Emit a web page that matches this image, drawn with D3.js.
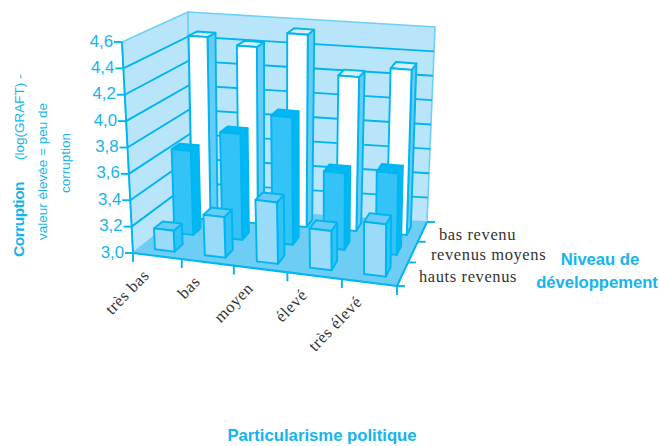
<!DOCTYPE html>
<html><head><meta charset="utf-8">
<script src="https://cdn.jsdelivr.net/npm/d3@7"></script>
<style>html,body{margin:0;padding:0;background:#fff}svg{display:block}</style>
</head><body><svg id="c" width="659" height="446"></svg>
<script>
const categories = ["très bas","bas","moyen","élevé","très élevé"];
const depths = ["hauts revenus","revenus moyens","bas revenu"];
const hautsRevenus = [3.16,3.31,3.47,3.30,3.40];
const revenusMoyens = [3.66,3.83,4.00,3.60,3.64];
const basRevenu = [4.47,4.42,4.55,4.24,4.33];
const yTicks = [3.0,3.2,3.4,3.6,3.8,4.0,4.2,4.4,4.6];

const W = {fbl:[133,253],fbr:[397,286],bbl:[191,207],bbr:[427,222],ftl:[122,42],ftr:[398,75],btl:[188,12],btr:[435,27]};
const x = d3.scaleBand().domain(categories).range([0.006,1.006]).paddingInner(0.6).paddingOuter(0.3);
const z = d3.scaleBand().domain(depths).range([0,1]).paddingInner(0.58).paddingOuter(0.29);
const y = d3.scaleLinear().domain([3.0,4.6]).range([0,1]);
const warpX = d3.scalePow().exponent(1.05).domain([0,1]).range([0,1]);
const warpZ = d3.scalePow().exponent(0.91).domain([0,1]).range([0,1]);
const lerp=(a,b,t)=>[a[0]+(b[0]-a[0])*t,a[1]+(b[1]-a[1])*t];
function P(u0,d0,h){
  const u=warpX(u0), d=warpZ(d0);
  const bot=lerp(lerp(W.fbl,W.fbr,u),lerp(W.bbl,W.bbr,u),d);
  const top=lerp(lerp(W.ftl,W.ftr,u),lerp(W.btl,W.btr,u),d);
  return lerp(bot,top,h);
}
const line=C=>"M"+C.map(p=>p.join(",")).join("L")+"Z";
const svg=d3.select("#c");
const LINE="#00b5f1", WALL="#b9e5fb", WEDGE="#6fd0f5", FLOOR="#6dcdf5", INK="#333333";
const SANS="'Liberation Sans',Arial,sans-serif", SERIF="'Liberation Serif',serif";
const SW=1.9;

// walls and floor
svg.append("path").attr("d",line([P(0,0,0),P(0,0,1),P(0,1,1),P(0,1,0)])).attr("fill",WALL).attr("stroke",WEDGE).attr("stroke-width",1.6);
svg.append("path").attr("d",line([P(0,1,0),P(0,1,1),P(1,1,1),P(1,1,0)])).attr("fill",WALL).attr("stroke",WEDGE).attr("stroke-width",1.6);
svg.append("path").attr("d",line([P(0,0,0),P(1,0,0),P(1,1,0),P(0,1,0)])).attr("fill",FLOOR);

// grid
yTicks.forEach(t=>{
  const h=y(t);
  if(t>3.0 && t<4.6){
    svg.append("polyline").attr("points",[P(0,0,h),P(0,1,h),P(1,1,h)].map(p=>p.join(",")).join(" "))
      .attr("fill","none").attr("stroke",LINE).attr("stroke-width",SW);
  }
  const a=P(0,0,h);
  svg.append("line").attr("x1",a[0]-8).attr("x2",a[0]).attr("y1",a[1]).attr("y2",a[1]).attr("stroke",LINE).attr("stroke-width",SW);
  svg.append("text").attr("x",a[0]-9).attr("y",a[1]+4.5).attr("text-anchor","end").attr("font-family",SANS).attr("font-size",16.8).attr("fill","#14b4ee").text(d3.format(".1f")(t).replace(".",","));
});
// left wall front edge
svg.append("line").attr("x1",W.ftl[0]).attr("y1",W.ftl[1]).attr("x2",W.fbl[0]).attr("y2",W.fbl[1]).attr("stroke",LINE).attr("stroke-width",SW);
// floor edges + ticks
svg.append("line").attr("x1",W.fbl[0]).attr("y1",W.fbl[1]).attr("x2",W.fbr[0]).attr("y2",W.fbr[1]).attr("stroke",LINE).attr("stroke-width",2);
svg.append("line").attr("x1",W.fbr[0]).attr("y1",W.fbr[1]).attr("x2",W.bbr[0]).attr("y2",W.bbr[1]).attr("stroke",LINE).attr("stroke-width",2);
categories.forEach((c,i)=>{
  const p=P(i/categories.length,0,0);
  svg.append("line").attr("x1",p[0]).attr("x2",p[0]).attr("y1",p[1]).attr("y2",p[1]+9).attr("stroke",LINE).attr("stroke-width",SW);
  const m=P(x(c)+x.bandwidth()/2,0,0);
  svg.append("text").attr("transform",`translate(${m[0]-8},${m[1]+20}) rotate(-46)`).attr("text-anchor","end")
    .attr("font-family",SERIF).attr("font-size",16.5).attr("fill",INK).attr("letter-spacing",.6).text(c);
});
const pe=P(1,0,0);
svg.append("line").attr("x1",pe[0]).attr("x2",pe[0]).attr("y1",pe[1]).attr("y2",pe[1]+9).attr("stroke",LINE).attr("stroke-width",SW);
[0,1,2,3].forEach(i=>{
  const p=P(1,i/3,0);
  svg.append("line").attr("x1",p[0]).attr("x2",p[0]+8).attr("y1",p[1]).attr("y2",p[1]).attr("stroke",LINE).attr("stroke-width",SW);
});
[["hauts revenus",419,282],["revenus moyens",431,260],["bas revenu",439,240]].forEach(([t,a,b])=>{
  svg.append("text").attr("x",a).attr("y",b).attr("font-family",SERIF).attr("font-size",16.5).attr("letter-spacing",.6).attr("fill",INK).text(t);
});

// bars, back to front
const series=[
 {name:depths[2],v:basRevenu,front:"#ffffff",top:"#d5f1fd",side:"#66ccf5"},
 {name:depths[1],v:revenusMoyens,front:"#33c3f6",top:"#00b8f3",side:"#00b8f3"},
 {name:depths[0],v:hautsRevenus,front:"#9bdbfa",top:"#66ccf5",side:"#2fc3f6"}
];
series.forEach(s=>{
  s.v.forEach((val,i)=>{
    const c=categories[i];
    const u0=x(c),u1=u0+x.bandwidth(),d0=z(s.name),d1=d0+z.bandwidth(),h=y(val);
    const g=svg.append("g").attr("stroke",LINE).attr("stroke-width",SW).attr("stroke-linejoin","round");
    g.append("path").attr("d",line([P(u1,d0,0),P(u1,d1,0),P(u1,d1,h),P(u1,d0,h)])).attr("fill",s.side);
    g.append("path").attr("d",line([P(u0,d0,h),P(u1,d0,h),P(u1,d1,h),P(u0,d1,h)])).attr("fill",s.top);
    g.append("path").attr("d",line([P(u0,d0,0),P(u1,d0,0),P(u1,d0,h),P(u0,d0,h)])).attr("fill",s.front);
  });
});

// titles
const T="#14b4ee";
const rot=(t,px,py,w,sz)=>svg.append("text").attr("transform",`translate(${px},${py}) rotate(-90)`).attr("font-family",SANS)
  .attr("font-size",sz).attr("font-weight",w).attr("fill",T).text(t);
rot("Corruption",24,257,700,15.5).attr("letter-spacing",-.5);
rot("(log(GRAFT) -",24,160,400,13.5);
rot("valeur élevée = peu de",47,240,400,13.5);
rot("corruption",70,193,400,13.5);
const bt=(t,px,py,sz)=>svg.append("text").attr("x",px).attr("y",py).attr("text-anchor","middle").attr("font-family",SANS).attr("font-weight",700).attr("font-size",sz).attr("fill",T).text(t);
bt("Niveau de",600,265,16.6);
bt("développement",597,288,16.6);
bt("Particularisme politique",322,441,16.7);
</script></body></html>
